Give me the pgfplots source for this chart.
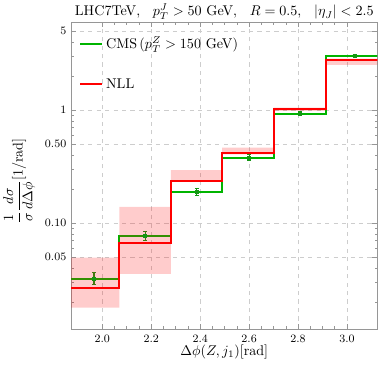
\documentclass[border=0pt]{standalone}
\usepackage{pgfplots}
\pgfplotsset{compat=1.18}
\definecolor{cmsgreen}{RGB}{0,180,0}
\definecolor{errgreen}{RGB}{20,150,20}
\definecolor{gridgray}{RGB}{205,205,205}
\definecolor{framegray}{RGB}{150,150,150}
\definecolor{nllred}{RGB}{255,0,0}
\begin{document}
\begin{tikzpicture}
\useasboundingbox (-50.5pt,-32pt) rectangle (219.6pt,233.3pt);
\begin{axis}[
  scale only axis, width=217pt, height=217.5pt,
  ymode=log,
  xmin=1.873, xmax=3.124, ymin=0.0115, ymax=5.97,
  xtick={2,2.2,2.4,2.6,2.8,3},
  xticklabels={2.0,2.2,2.4,2.6,2.8,3.0},
  minor x tick num=3,
  ytick={0.05,0.1,0.5,1,5},
  yticklabels={0.05,0.10,0.50,1,5},
  minor ytick={0.02,0.03,0.04,0.06,0.07,0.08,0.09,0.2,0.3,0.4,0.6,0.7,0.8,0.9,2,3,4},
  tick align=inside,
  major tick length=3.5pt, minor tick length=2pt,
  tick style={framegray, line width=0.4pt},
  axis line style={framegray, line width=0.5pt},
  grid=major,
  major grid style={gridgray, dash pattern=on 3pt off 3pt, line width=0.5pt},
  ticklabel style={font=\footnotesize},
  xticklabel style={anchor=base, yshift=-9.4pt},
  every axis title/.style={at={(axis description cs:0.5,1.0207)}, anchor=base, inner sep=0pt, font=\normalsize},
  title={LHC7TeV,\hspace{9pt}$p_T^J>50$ GeV,\hspace{9pt}$R=0.5$,\hspace{9pt}$|\eta_J|<2.5$},
  every axis x label/.style={at={(axis description cs:0.5,-0.0848)}, anchor=base, inner sep=0pt},
  xlabel={$\Delta\phi(Z,j_1)$[rad]},
  every axis y label/.style={at={(axis description cs:-0.223,0.483)}, anchor=north, rotate=90, inner sep=0pt},
  ylabel={$\displaystyle\frac{1}{\sigma}\frac{d\sigma}{d\Delta\phi}$[1/rad]},
  legend image code/.code={\draw[#1, line width=1.45pt] (0pt,0pt) -- (15.6pt,0pt);},
  legend style={at={(axis description cs:0,1)}, anchor=north west, xshift=5.5pt, yshift=-8pt,
    draw=none, fill=none, inner sep=0pt, row sep=15.8pt, font=\normalsize},
  legend cell align=left,
]
% CMS data (histogram steps)
\addplot[cmsgreen, line width=1.45pt, mark=none, sharp plot] coordinates {
  (1.86,0.0319) (2.07,0.0319) (2.07,0.0772) (2.28,0.0772) (2.28,0.188) (2.49,0.188)
  (2.49,0.378) (2.70,0.378) (2.70,0.93) (2.913,0.93) (2.913,3.0) (3.15,3.0)};
\addlegendentry{CMS\,($p_T^Z>150$ GeV)}
\addplot[errgreen, only marks, mark=square*, mark size=1.1pt, forget plot,
  error bars/.cd, y dir=both, y explicit,
  error bar style={line width=0.8pt, errgreen},
  error mark options={rotate=90, mark size=1.4pt, line width=0.7pt, errgreen}]
  table[y error plus=ep, y error minus=em] {
  x y ep em
  1.966 0.0319 0.0049 0.0036
  2.175 0.0772 0.0072 0.0069
  2.386 0.188 0.015 0.014
  2.600 0.378 0.028 0.022
  2.808 0.930 0.045 0.045
  3.031 3.00 0.12 0.11
};
% NLL uncertainty bands (semi-transparent, over the data)
\addplot[fill=red, fill opacity=0.2, draw=none, forget plot] coordinates {(1.86,0.0178) (2.07,0.0178) (2.07,0.0493) (1.86,0.0493) (1.86,0.0178)};
\addplot[fill=red, fill opacity=0.2, draw=none, forget plot] coordinates {(2.07,0.0354) (2.28,0.0354) (2.28,0.139) (2.07,0.139) (2.07,0.0354)};
\addplot[fill=red, fill opacity=0.2, draw=none, forget plot] coordinates {(2.28,0.232) (2.49,0.232) (2.49,0.294) (2.28,0.294) (2.28,0.232)};
\addplot[fill=red, fill opacity=0.2, draw=none, forget plot] coordinates {(2.49,0.405) (2.70,0.405) (2.70,0.464) (2.49,0.464) (2.49,0.405)};
\addplot[fill=red, fill opacity=0.2, draw=none, forget plot] coordinates {(2.70,0.98) (2.913,0.98) (2.913,1.05) (2.70,1.05) (2.70,0.98)};
\addplot[fill=red, fill opacity=0.2, draw=none, forget plot] coordinates {(2.913,2.50) (3.15,2.50) (3.15,2.85) (2.913,2.85) (2.913,2.50)};
% NLL line
\addplot[nllred, line width=1.45pt, mark=none, sharp plot] coordinates {
  (1.86,0.0268) (2.07,0.0268) (2.07,0.0665) (2.28,0.0665) (2.28,0.237) (2.49,0.237)
  (2.49,0.413) (2.70,0.413) (2.70,1.01) (2.913,1.01) (2.913,2.77) (3.15,2.77)};
\addlegendentry{NLL}
\end{axis}
\end{tikzpicture}
\end{document}
